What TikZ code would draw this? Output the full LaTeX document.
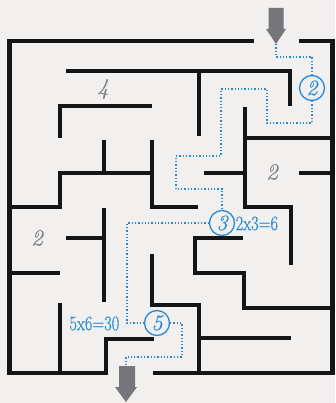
\documentclass[tikz,border=0pt]{standalone}
\usepackage{fontspec}
\newfontfamily\lmheavy{Latin Modern Roman}[FakeBold=0.5]
\definecolor{wallc}{RGB}{19,21,23}
\definecolor{bgc}{RGB}{241,240,238}
\definecolor{bluec}{RGB}{40,138,214}
\definecolor{grayc}{RGB}{128,128,132}
\definecolor{arrowc}{RGB}{118,118,122}
\newcommand{\narrowtxt}[1]{\scalebox{0.8}[1]{#1}}
\begin{document}
\begin{tikzpicture}[x=1pt,y=-1pt,
  wall/.style={draw=wallc, line width=4.6pt, line cap=butt, line join=miter},
  route/.style={draw=bluec, line width=1.3pt, dotted},
  stepcirc/.style={circle, draw=bluec, line width=1.3pt, minimum size=25pt, inner sep=0pt,
    text=bluec, font=\lmheavy\fontsize{22}{22}\selectfont\itshape},
  calc/.style={text=bluec, inner sep=0pt, font=\lmheavy\fontsize{20.5}{20.5}\selectfont},
  hint/.style={text=grayc, inner sep=0pt, font=\lmheavy\fontsize{23}{23}\selectfont\itshape},
  bigarrow/.style={fill=arrowc}]
\fill[bgc] (0,0) rectangle (335,403);
\useasboundingbox (0,0) rectangle (335,403);

% outer walls
\draw[wall] (254,41) -- (9.7,41) -- (9.7,373) -- (106,373) -- (106,339) -- (154,339);
\draw[wall] (299,41) -- (332.7,41) -- (332.7,373) -- (153,373);

% interior walls
\draw[wall] (66,71) -- (290,71) -- (290,106);
\draw[wall] (199,71) -- (199,136);
\draw[wall] (152,106) -- (60,106) -- (60,138);
\draw[wall] (104,140) -- (104,173);
\draw[wall] (9.7,207) -- (60,207) -- (60,173) -- (152,173);
\draw[wall] (152,140) -- (152,207) -- (198,207);
\draw[wall] (245,107) -- (245,207) -- (291,207) -- (291,265);
\draw[wall] (245,138) -- (332.7,138);
\draw[wall] (204,173) -- (245,173);
\draw[wall] (299,173) -- (332.7,173);
\draw[wall] (104,208) -- (104,302);
\draw[wall] (66,238) -- (104,238);
\draw[wall] (9.7,273) -- (60,273);
\draw[wall] (60,303) -- (60,373);
\draw[wall] (152,254) -- (152,305) -- (199,305) -- (199,373);
\draw[wall] (199,338) -- (291,338);
\draw[wall] (243,238) -- (195,238) -- (195,273) -- (244,273) -- (244,308) -- (332.7,308);

% arrows
\fill[bigarrow] (268.5,8) -- (283.5,8) -- (283.5,29) -- (286,29) -- (276,44) -- (266,29) -- (268.5,29) -- cycle;
\coordinate (entry) at (276,44);
\fill[bigarrow] (119,366) -- (135,366) -- (135,387) -- (137,387) -- (126,402) -- (115,387) -- (119,387) -- cycle;
\coordinate (exit) at (126,366);

% hint numbers
\node[hint] (h4) at (103,89) {4};
\node[hint] (h2a) at (272,172) {2};
\node[hint] (h2b) at (37,238) {2};

% step circles
\node[stepcirc] (c2) at (312,88) {2};
\node[stepcirc] (c3) at (222,223) {3};
\node[stepcirc] (c5) at (157,323) {5};

\node[calc, anchor=west] (l3) at (235.5,223.5) {\narrowtxt{2x3=6}};
\node[calc, anchor=east] (l5) at (119.5,323.5) {\narrowtxt{5x6=30}};

% route
\draw[route] (entry) -- (276,57) -- (312,57) -- (c2.north);
\draw[route] (c2.south) -- (312,123) -- (267,123) -- (267,89) -- (221,89) -- (221,156) -- (176,156) -- (176,189) -- (222,189) -- (c3.north);
\draw[route] (c3.west) -- (127,223) -- (127,323) -- (c5.west);
\draw[route] (c5.east) -- (182,323) -- (182,357) -- (126,357) -- (exit);
\end{tikzpicture}
\end{document}
